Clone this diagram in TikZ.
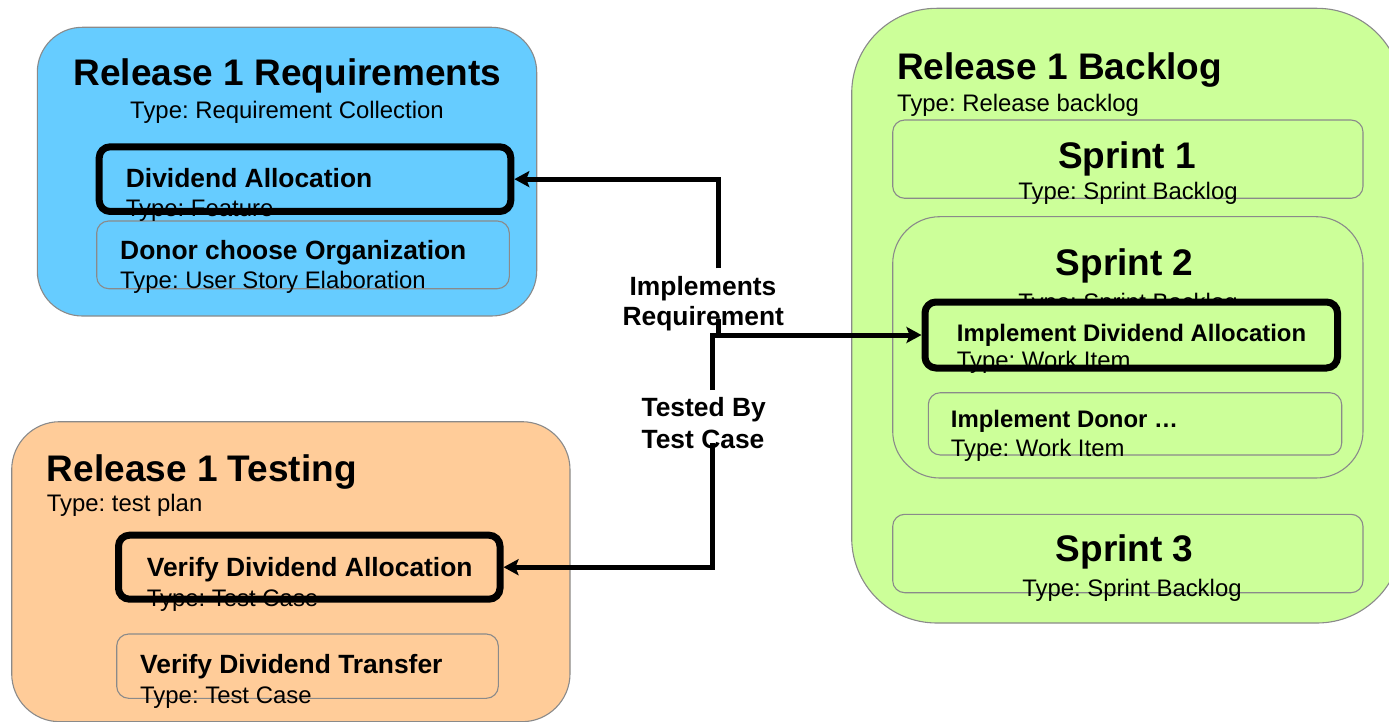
\documentclass[tikz,border=0pt]{standalone}
\usepackage{fontspec}
\setmainfont{Liberation Sans}
\frenchspacing
\usetikzlibrary{arrows.meta}
\definecolor{reqblue}{HTML}{66CCFF}
\definecolor{bkgreen}{HTML}{CCFF99}
\definecolor{tsorange}{HTML}{FFCC99}
\definecolor{edgegray}{HTML}{8A8A8A}
\tikzset{
  container/.style={draw=edgegray, line width=1.1pt, inner sep=0pt, outer sep=0pt},
  thinbox/.style={draw=edgegray, line width=1.1pt, rounded corners=12pt, inner sep=0pt, outer sep=0pt},
  thickbox/.style={draw=black, line width=7pt, rounded corners=11pt, inner sep=0pt},
  bigtitle/.style={inner sep=0pt, font=\fontsize{37}{44}\selectfont\bfseries},
  midtitle/.style={inner sep=0pt, font=\fontsize{26.4}{31}\selectfont\bfseries},
  smalltitle/.style={inner sep=0pt, font=\fontsize{23.9}{28}\selectfont\bfseries},
  typetext/.style={inner sep=0pt, font=\fontsize{23.9}{28}\selectfont},
  linklabel/.style={inner sep=0pt, font=\fontsize{26.4}{31}\selectfont\bfseries},
  conn/.style={draw=black, line width=5pt},
  arrowhead/.style={-{Stealth[length=15pt,width=16pt,inset=3pt]}}
}
\begin{document}
\begin{tikzpicture}[x=1pt,y=-1pt]
\useasboundingbox (0,0) rectangle (1389,722);

% ---------- Release 1 Requirements ----------
\node[container, fill=reqblue, rounded corners=45pt, minimum width=499.4pt, minimum height=288.7pt] (req) at (287,171.65) {};
\node[bigtitle, anchor=base] (reqtitle) at (287.5,86) {Release 1 Requirements};
\node[typetext, anchor=base] (reqtype) at (287,119) {Type: Requirement Collection};

\node[thinbox, minimum width=412.6pt, minimum height=67.7pt] (donor) at (303,254.85) {};
\node[midtitle, anchor=base west] (donort) at (120,259.3) {Donor choose Organization};
\node[typetext, anchor=base west] (donorty) at (120,288.3) {Type: User Story Elaboration};

\node[thickbox, fill=reqblue, minimum width=411.6pt, minimum height=64.7pt] (feat) at (305,179.15) {};
\node[midtitle, anchor=base west] (featt) at (125.7,187.3) {Dividend Allocation};
\node[typetext, anchor=base west] (featty) at (125.7,216.7) {Type: Feature};

% ---------- Release 1 Testing ----------
\node[container, fill=tsorange, rounded corners=48pt, minimum width=558.3pt, minimum height=300pt] (tst) at (290.85,571.7) {};
\node[bigtitle, anchor=base west] (tsttitle) at (46.7,481.7) {Release 1 Testing};
\node[typetext, anchor=base west] (tsttype) at (46.7,511.7) {Type: test plan};

\node[thickbox, fill=tsorange, minimum width=381.5pt, minimum height=64pt] (ver) at (309.25,567.2) {};
\node[midtitle, anchor=base west] (vert) at (146.7,576.7) {Verify Dividend Allocation};
\node[typetext, anchor=base west] (verty) at (146.7,606.7) {Type: Test Case};

\node[thinbox, minimum width=381.6pt, minimum height=64.3pt] (trf) at (307.5,666.15) {};
\node[midtitle, anchor=base west] (trft) at (140,673.3) {Verify Dividend Transfer};
\node[typetext, anchor=base west] (trfty) at (140,703.3) {Type: Test Case};

% ---------- Release 1 Backlog ----------
\node[container, fill=bkgreen, rounded corners=85pt, minimum width=550.3pt, minimum height=614.7pt] (bkl) at (1126.85,315.65) {};
\node[bigtitle, anchor=base west] (bkltitle) at (897,80) {Release 1 Backlog};
\node[typetext, anchor=base west] (bkltype) at (897,111.7) {Type: Release backlog};

\node[thinbox, minimum width=470.3pt, minimum height=78.3pt] (sp1) at (1127.85,159.15) {};
\node[bigtitle, anchor=base] (sp1t) at (1127,168.3) {Sprint 1};
\node[typetext, anchor=base] (sp1ty) at (1128,200) {Type: Sprint Backlog};

\node[thinbox, rounded corners=47pt, minimum width=470.3pt, minimum height=261.3pt] (sp2) at (1127.85,347.35) {};
\node[bigtitle, anchor=base] (sp2t) at (1124.7,275) {Sprint 2};
\node[typetext, anchor=base] (sp2ty) at (1128,310) {Type: Sprint Backlog};

\node[thinbox, minimum width=413.4pt, minimum height=62.3pt] (wi2) at (1135,423.85) {};
\node[smalltitle, anchor=base west] (wi2t) at (950.7,427.7) {Implement Donor …};
\node[typetext, anchor=base west] (wi2ty) at (950.7,456) {Type: Work Item};

\node[thickbox, fill=bkgreen, minimum width=412.5pt, minimum height=66pt] (wi) at (1131.25,335) {};
\node[smalltitle, anchor=base west] (wit) at (956.7,341.7) {Implement Dividend Allocation};
\node[typetext, anchor=base west] (wity) at (956.7,368) {Type: Work Item};

\node[thinbox, minimum width=470.3pt, minimum height=78.4pt] (sp3) at (1127.85,553.5) {};
\node[bigtitle, anchor=base] (sp3t) at (1124.7,561.7) {Sprint 3};
\node[typetext, anchor=base] (sp3ty) at (1132,596.7) {Type: Sprint Backlog};

% ---------- connector labels ----------
\node[linklabel, anchor=base] (impl1) at (703,295) {Implements};
\node[linklabel, anchor=base] (impl2) at (703.3,325.7) {Requirement};
\node[linklabel, anchor=base] (test1) at (703.7,416.7) {Tested By};
\node[linklabel, anchor=base] (test2) at (703,448.3) {Test Case};

% ---------- connectors ----------
\coordinate (a1) at (718.3,268.3);
\coordinate (a2) at (718.3,319.3);
\coordinate (b1) at (712.3,390);
\coordinate (b2) at (712.3,443.3);
\draw[conn, arrowhead] (a1) |- (feat.east);
\draw[conn] (a2) -- (a2 |- wi.west);
\draw[conn, arrowhead] (b1) |- (wi.west);
\draw[conn, arrowhead] (b2) |- (ver.east);
\end{tikzpicture}
\end{document}
